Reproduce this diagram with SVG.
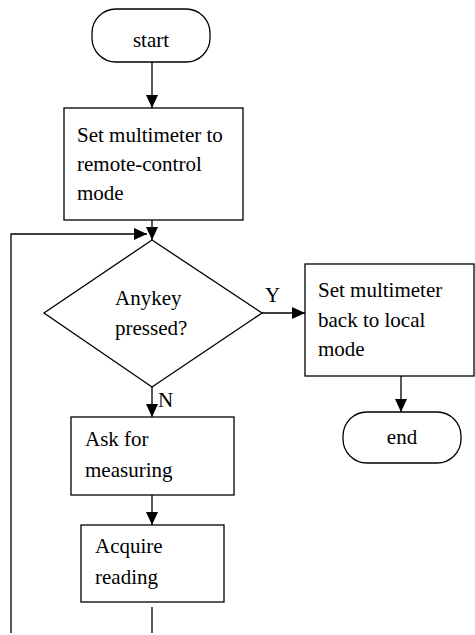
<svg xmlns="http://www.w3.org/2000/svg" width="475" height="635" viewBox="0 0 475 635">
<style>
.n{fill:#fff;stroke:#000;stroke-width:1.3}
.c{fill:none;stroke:#000;stroke-width:1.3}
text{font-family:'Liberation Serif',serif;font-size:21px;fill:#000}
</style>
<defs>
<marker id="ah" markerUnits="userSpaceOnUse" markerWidth="13" markerHeight="12" refX="13" refY="6" orient="auto">
<path d="M0,0 L13,6 L0,12 z" fill="#000"/>
</marker>
</defs>
<rect width="475" height="635" fill="#fff"/>
<g id="connectors">
<line class="c" x1="152" y1="62" x2="152" y2="108" marker-end="url(#ah)"/>
<line class="c" x1="152" y1="220" x2="152" y2="240" marker-end="url(#ah)"/>
<polyline class="c" points="152,607 152,633"/>
<polyline class="c" points="11,633 11,234 147,234" marker-end="url(#ah)"/>
<line class="c" x1="262" y1="313" x2="305" y2="313" marker-end="url(#ah)"/>
<text x="265" y="302" font-family="Liberation Serif, serif">Y</text>
<line class="c" x1="152" y1="387" x2="152" y2="417" marker-end="url(#ah)"/>
<text x="158" y="407" font-family="Liberation Serif, serif">N</text>
<line class="c" x1="152" y1="495" x2="152" y2="525" marker-end="url(#ah)"/>
<line class="c" x1="401" y1="376" x2="401" y2="412" marker-end="url(#ah)"/>
</g>
<g id="start">
<rect class="n" x="92" y="9" width="118" height="53" rx="24"/>
<text x="151" y="47" text-anchor="middle">start</text>
</g>
<g id="remote">
<rect class="n" x="64" y="108" width="179" height="112"/>
<text x="77" y="142">Set multimeter to</text>
<text x="77" y="171">remote-control</text>
<text x="77" y="200">mode</text>
</g>
<g id="decision">
<polygon class="n" points="152,240 262,313 152,387 44,313"/>
<text x="115" y="305">Anykey</text>
<text x="115" y="335">pressed?</text>
</g>
<g id="local">
<rect class="n" x="305" y="264" width="169" height="112"/>
<text x="318" y="297">Set multimeter</text>
<text x="318" y="327">back to local</text>
<text x="318" y="356">mode</text>
</g>
<g id="end">
<rect class="n" x="343" y="412" width="118" height="51" rx="24"/>
<text x="402" y="444" text-anchor="middle">end</text>
</g>
<g id="ask">
<rect class="n" x="71" y="417" width="163" height="78"/>
<text x="85" y="446">Ask for</text>
<text x="85" y="477">measuring</text>
</g>
<g id="acquire">
<rect class="n" x="81" y="525" width="143" height="77"/>
<text x="95" y="553">Acquire</text>
<text x="95" y="584">reading</text>
</g>
</svg>
